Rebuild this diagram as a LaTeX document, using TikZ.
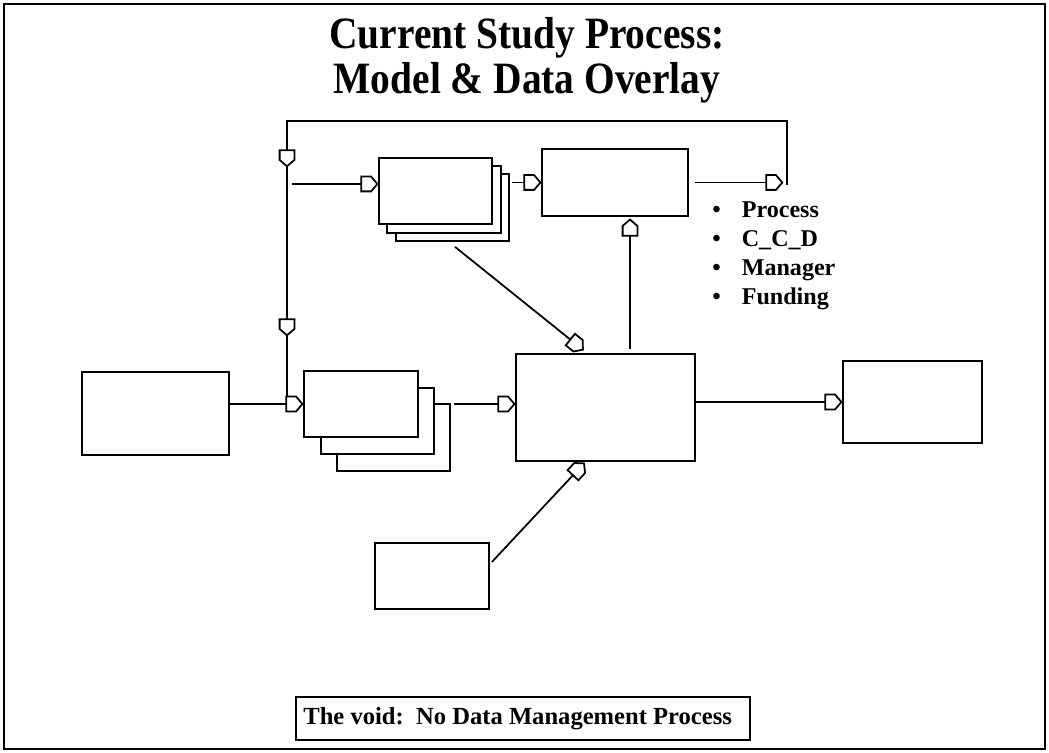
\documentclass[tikz,border=0pt]{standalone}
\usepackage{fontspec}
\setmainfont{Liberation Serif}
\newfontfamily\titlefont[FakeStretch=0.88]{Liberation Serif Bold}
\usetikzlibrary{arrows.meta,fit,calc}

\pgfdeclarearrow{
  name=House,
  setup code={
    \pgfarrowssettipend{0pt}
    \pgfarrowssetlineend{-9pt}
    \pgfarrowssetbackend{-10pt}
    \pgfarrowsupperhullpoint{-10pt}{4.6pt}
    \pgfarrowsupperhullpoint{0pt}{0pt}
  },
  drawing code={
    \pgfsetfillcolor{white}
    \pgfsetmiterjoin
    \pgfpathmoveto{\pgfqpoint{-9.6pt}{4.2pt}}
    \pgfpathlineto{\pgfqpoint{-4pt}{4.2pt}}
    \pgfpathlineto{\pgfqpoint{-0.4pt}{0pt}}
    \pgfpathlineto{\pgfqpoint{-4pt}{-4.2pt}}
    \pgfpathlineto{\pgfqpoint{-9.6pt}{-4.2pt}}
    \pgfpathclose
    \pgfusepathqfillstroke
  }
}

\begin{document}
\begin{tikzpicture}[x=0.02cm,y=-0.02cm,
  box/.style={draw, line width=1pt, fill=white, inner sep=0pt},
  conn/.style={line width=1pt},
  arr/.style={conn,-House},
  titletext/.style={font=\titlefont\fontsize{25.5}{25.5}\selectfont, anchor=base, inner sep=0pt},
  bodytext/.style={font=\bfseries\fontsize{13.7}{16.4}\selectfont, inner sep=0pt}]
\useasboundingbox (0,0) rectangle (1049,753);
\node[draw, line width=1.4pt, inner sep=0pt, fit={(4,4)(1045,749)}] (frame) {};

% title
\node[titletext] (title1) at (527,49) {Current Study Process:};
\node[titletext] (title2) at (527,94) {Model \& Data Overlay};

% boxes
\node[box, fit={(82,372)(229,455)}] (A) {};
\node[box, fit={(337,404)(450,471)}] (B3) {};
\node[box, fit={(321,388)(434,454)}] (B2) {};
\node[box, fit={(304,371)(418,437)}] (B1) {};
\node[box, fit={(396,174)(509,241)}] (F3) {};
\node[box, fit={(387,166)(501,233)}] (F2) {};
\node[box, fit={(379,158)(492,224)}] (F1) {};
\node[box, fit={(542,149)(688,216)}] (G) {};
\node[box, fit={(516,354)(695,461)}] (C) {};
\node[box, fit={(843,361)(982,443)}] (D) {};
\node[box, fit={(375,543)(489,609)}] (E) {};

% feedback loop
\coordinate (fbTL) at (287,121);
\coordinate (fbTR) at (787,121);
\coordinate (fbBR) at (787,185);
\coordinate (dn1) at (287,167);
\coordinate (dn2) at (287,336);
\coordinate (fbBL) at (fbTL |- B1.west);
\coordinate (fIn) at (292,184);
\coordinate (gx) at (630,0);

\draw[arr] (fbBR) -- (fbTR) -- (fbTL) -- (dn1);
\draw[arr] (dn1) -- (dn2);
\draw[conn] (dn2) -- (fbBL);
\draw[arr] ($(G.east)+(6,0)$) -- ($(G.east -| fbBR)+(-4,0)$);

% connectors
\draw[arr] (fIn) -- (F1.west |- fIn);
\draw[arr] ($(F3.east |- G.west)+(2,0)$) -- (G.west);
\draw[arr] (A.east |- B1.west) -- (B1.west);
\draw[arr] ($(B3.east |- B1.west)+(3,0)$) -- (C.west |- B1.west);
\draw[arr] (C.east |- D.west) -- (D.west);
\draw[arr] ($(C.north -| gx)+(0,-4)$) -- ($(G.south -| gx)+(0,2)$);
\draw[arr] ($(F3.south)+(2.5,5)$) -- ($(C.north)+(-22,-3)$);
\draw[arr] ($(E.east)+(2,-14)$) -- ($(C.south)+(-21,1)$);

% bullet list
\node[bodytext, anchor=base west, align=left] (bullets) at (712,218)
  {\begin{tabular}[t]{@{}c@{\hspace{12pt}}l@{}}
   \textbullet & Process\\
   \textbullet & C\_C\_D\\
   \textbullet & Manager\\
   \textbullet & Funding
   \end{tabular}};

% note
\node[draw, line width=1pt, inner sep=0pt, fit={(296,697)(750,740)}] (note) {};
\node[bodytext, font=\bfseries\fontsize{14}{16}\selectfont, anchor=west] (notetext) at (303,719) {The void:\ \ No Data Management Process};
\end{tikzpicture}
\end{document}
